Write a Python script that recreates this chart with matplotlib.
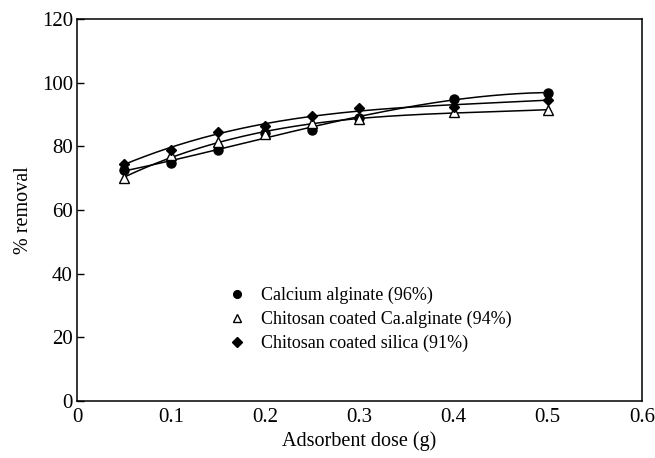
import matplotlib
matplotlib.use('Agg')
import matplotlib.pyplot as plt
import numpy as np

plt.rcParams['font.family'] = 'Liberation Serif'

# adsorbent dose (g) and % removal for each adsorbent
dose = [0.05, 0.1, 0.15, 0.2, 0.25, 0.3, 0.4, 0.5]
ca_alginate = [72.5, 74.8, 79.0, 84.2, 85.1, 89.0, 95.0, 96.8]
chitosan_ca_alginate = [69.9, 77.2, 81.4, 84.0, 87.2, 88.6, 90.8, 91.4]
chitosan_silica = [74.6, 79.0, 84.6, 86.5, 89.4, 92.0, 92.4, 94.7]

labels = ['Calcium alginate (96%)',
          'Chitosan coated Ca.alginate (94%)',
          'Chitosan coated silica (91%)']

fig = plt.figure(figsize=(6.55, 4.58), dpi=100)
ax = fig.add_axes([0.1176, 0.1245, 0.8624, 0.834])

series = [ca_alginate, chitosan_ca_alginate, chitosan_silica]
styles = [dict(marker='o', ms=6.5, mfc='black', mec='black'),
          dict(marker='^', ms=6.5, mfc='white', mec='black', mew=1.0),
          dict(marker='D', ms=5.5, mfc='black', mec='black')]

xs = np.linspace(0.05, 0.5, 200)
handles = []
for vals, st, lab in zip(series, styles, labels):
    # smooth cubic trend line through each series
    coef = np.polyfit(dose, vals, 3)
    ax.plot(xs, np.polyval(coef, xs), color='black', lw=1.1, zorder=2)
    h, = ax.plot(dose, vals, ls='none', zorder=3, label=lab, **st)
    handles.append(h)

ax.set_xlim(0, 0.6)
ax.set_ylim(0, 120)
ax.set_xticks([0, 0.1, 0.2, 0.3, 0.4, 0.5, 0.6])
ax.set_xticklabels(['0', '0.1', '0.2', '0.3', '0.4', '0.5', '0.6'])
ax.set_yticks(range(0, 121, 20))
ax.tick_params(direction='in', labelsize=15, length=5, width=1)
ax.tick_params(axis='x', length=0, pad=5)
ax.tick_params(axis='y', pad=3)
for sp in ax.spines.values():
    sp.set_linewidth(1.1)

ax.set_xlabel('Adsorbent dose (g)', fontsize=14.5, labelpad=3)
ax.set_ylabel('% removal', fontsize=14.5, labelpad=6)

ax.legend(handles=handles, loc='center left', bbox_to_anchor=(0.235, 0.213),
          frameon=False, fontsize=13, handlelength=1.2, handletextpad=0.75,
          labelspacing=0.38, markerscale=0.85)

fig.savefig('out.png', dpi=100)
